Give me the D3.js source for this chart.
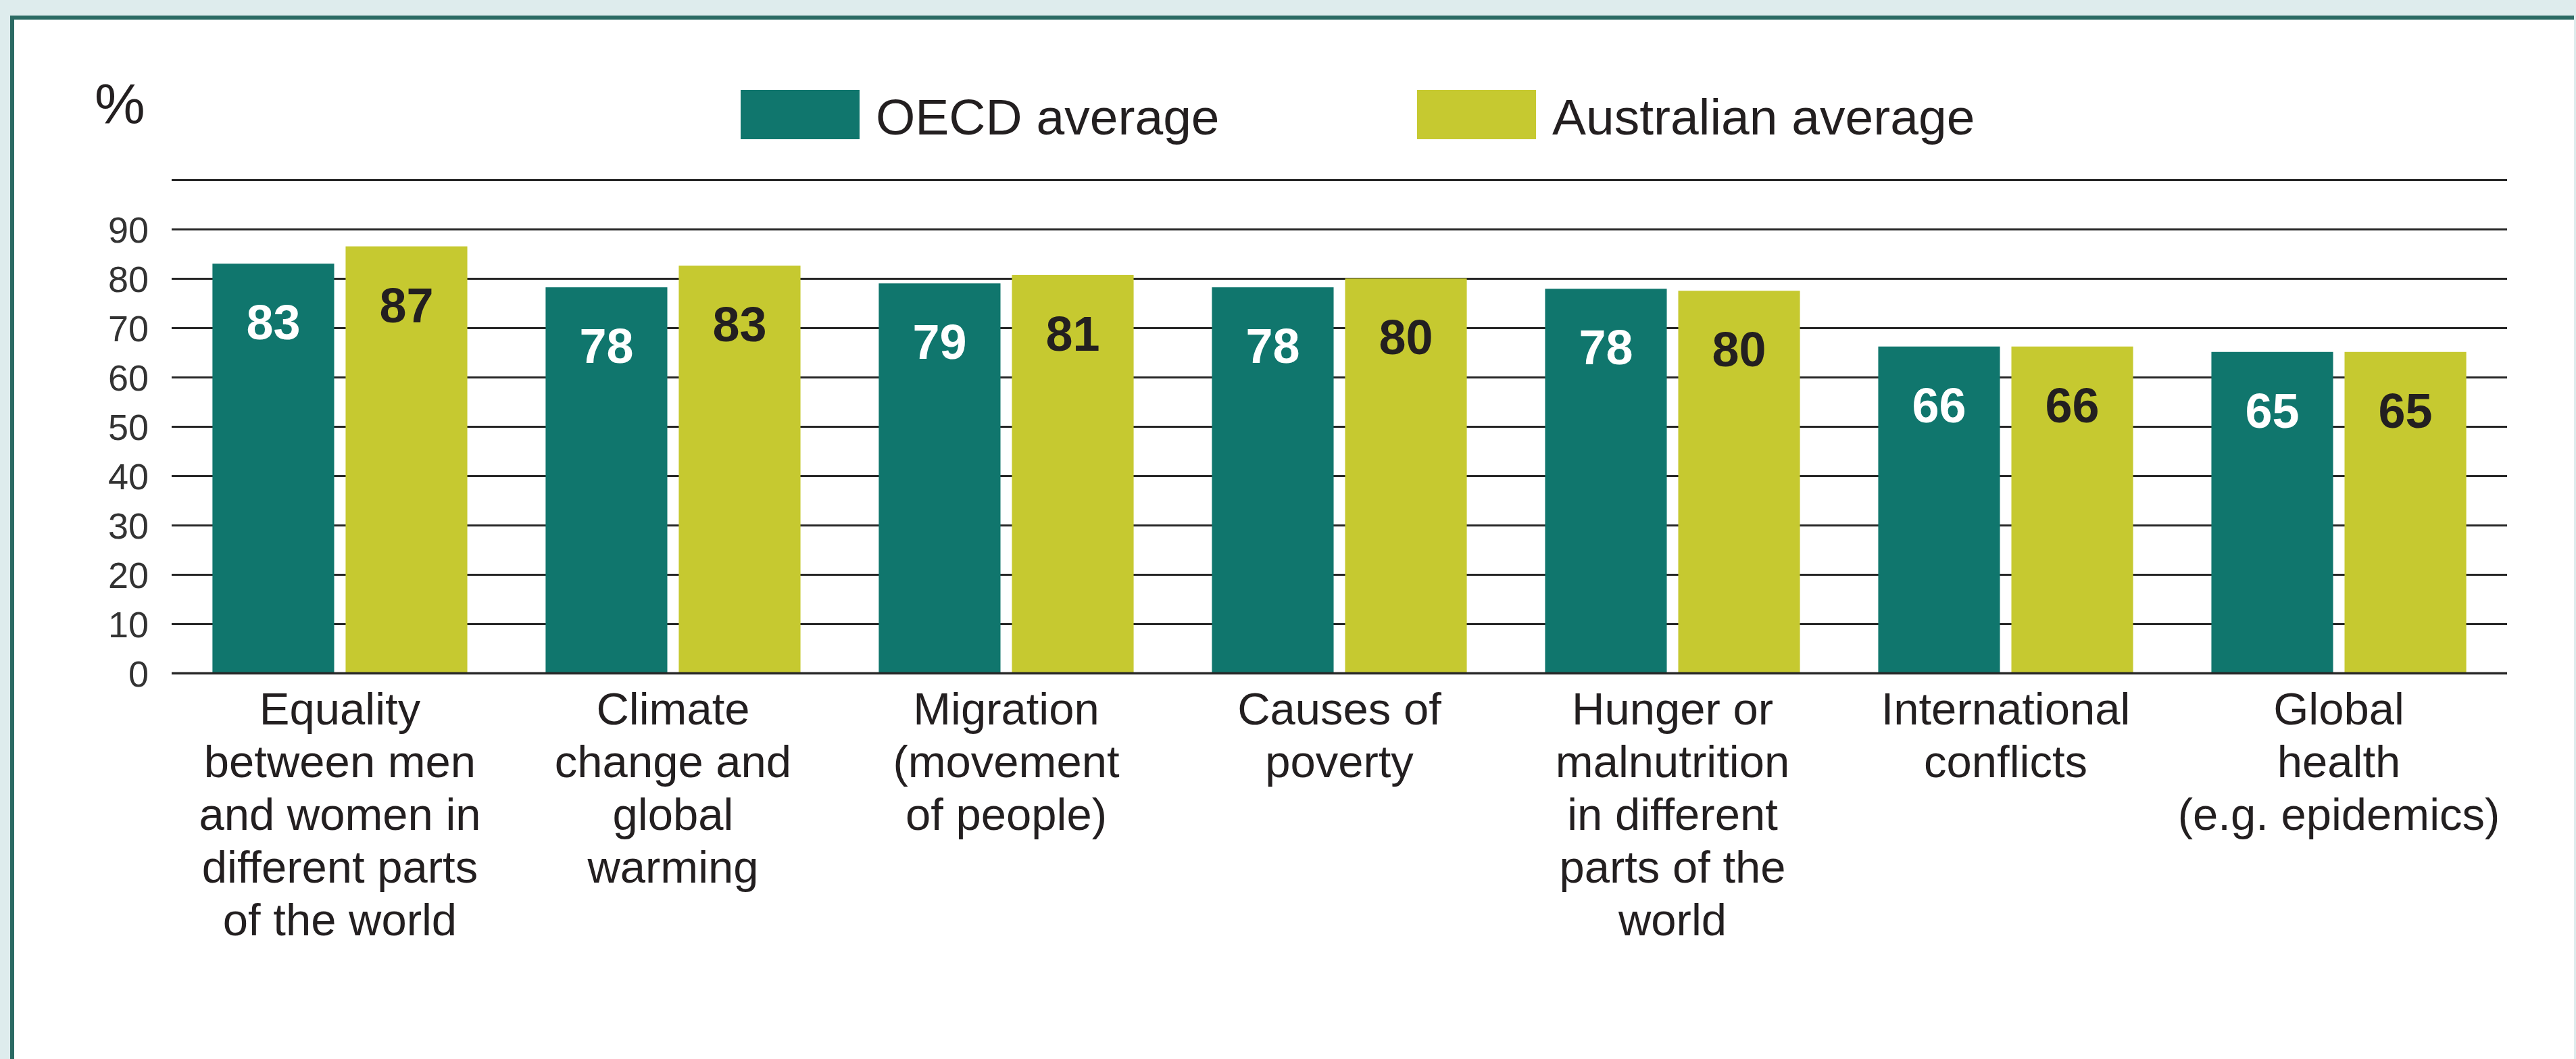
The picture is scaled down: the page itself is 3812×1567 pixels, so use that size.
<!DOCTYPE html>
<html>
<head>
<meta charset="utf-8">
<script src="https://cdn.jsdelivr.net/npm/d3@7"></script>
<style>
  body { margin: 0; background: #deeced; }
  svg { display: block; }
  text { font-family: "Liberation Sans", Arial, sans-serif; }
</style>
</head>
<body>
<svg id="chart" width="3812" height="1567"></svg>
<script>
// categories, as they are wrapped under the axis
const categories = [
  ["Equality", "between men", "and women in", "different parts", "of the world"],
  ["Climate", "change and", "global", "warming"],
  ["Migration", "(movement", "of people)"],
  ["Causes of", "poverty"],
  ["Hunger or", "malnutrition", "in different", "parts of the", "world"],
  ["International", "conflicts"],
  ["Global", "health", "(e.g. epidemics)"]
];
const seriesNames = ["OECD average", "Australian average"];

// bar heights
const oecdValues = [83, 78.2, 79, 78.2, 77.9, 66.2, 65.1];
const ausValues  = [86.5, 82.6, 80.7, 80, 77.5, 66.2, 65.1];
// numbers printed on the bars
const oecdLabels = ["83", "78", "79", "78", "78", "66", "65"];
const ausLabels  = ["87", "83", "81", "80", "80", "66", "65"];

const yTicks = [0, 10, 20, 30, 40, 50, 60, 70, 80, 90];
const colors = ["#10766d", "#c6c930"];
const labelColors = ["#ffffff", "#231f20"];

const svg = d3.select("#chart");
const W = 3812, H = 1567;

// panel
svg.append("rect").attr("x", 0).attr("y", 0).attr("width", W).attr("height", H).attr("fill", "#deeced");
svg.append("rect").attr("x", 18).attr("y", 23).attr("width", 3791).attr("height", H).attr("fill", "#ffffff");
svg.append("rect").attr("x", 18).attr("y", 23).attr("width", 3791).attr("height", 6).attr("fill", "#2b6a63");
svg.append("rect").attr("x", 15).attr("y", 23).attr("width", 6).attr("height", H).attr("fill", "#2b6a63");

const plotLeft = 254, plotRight = 3710, plotTop = 266, plotBottom = 996;

const x0 = d3.scaleBand()
  .domain(d3.range(categories.length))
  .range([plotLeft, plotRight])
  .paddingInner(0.235)
  .paddingOuter(0.1225);

const x1 = d3.scaleBand()
  .domain([0, 1])
  .range([0, x0.bandwidth()])
  .paddingInner(0.086);

const y = d3.scaleLinear().domain([0, 100]).range([plotBottom, plotTop]);

// grid lines (0..100, only 0..90 labelled)
const gridG = svg.append("g")
  .attr("transform", `translate(${plotLeft},0)`)
  .call(d3.axisRight(y).tickValues(d3.range(0, 101, 10)).tickSize(plotRight - plotLeft).tickFormat(""));
gridG.select(".domain").remove();
gridG.selectAll(".tick line").attr("stroke", "#262626").attr("stroke-width", 3);

const yAxis = svg.append("g")
  .attr("transform", `translate(${plotLeft},0)`)
  .call(d3.axisLeft(y).tickValues(yTicks).tickSize(0).tickPadding(34));
yAxis.select(".domain").remove();
yAxis.selectAll(".tick text")
  .attr("font-size", 54)
  .attr("fill", "#333333")
  .attr("font-family", "Liberation Sans, Arial, sans-serif")
  .attr("dy", "0.36em");

// bars
const rows = categories.map((c, i) => ({
  i,
  vals: [
    { s: 0, v: oecdValues[i], label: oecdLabels[i] },
    { s: 1, v: ausValues[i], label: ausLabels[i] }
  ]
}));

const groups = svg.selectAll(".group")
  .data(rows)
  .enter()
  .append("g")
  .attr("class", "group")
  .attr("transform", d => `translate(${x0(d.i)},0)`);

groups.selectAll("rect")
  .data(d => d.vals)
  .enter()
  .append("rect")
  .attr("x", d => x1(d.s))
  .attr("y", d => y(d.v))
  .attr("width", x1.bandwidth())
  .attr("height", d => y(0) - y(d.v))
  .attr("fill", d => colors[d.s]);

groups.selectAll(".val")
  .data(d => d.vals)
  .enter()
  .append("text")
  .attr("class", "val")
  .attr("x", d => x1(d.s) + x1.bandwidth() / 2)
  .attr("y", d => y(d.v) + 112)
  .attr("text-anchor", "middle")
  .attr("font-size", 72)
  .attr("font-weight", "bold")
  .attr("fill", d => labelColors[d.s])
  .text(d => d.label);

// zero line drawn on top of the bars
svg.append("line")
  .attr("x1", plotLeft).attr("x2", plotRight)
  .attr("y1", y(0)).attr("y2", y(0))
  .attr("stroke", "#262626").attr("stroke-width", 3);

// category labels
const catText = svg.selectAll(".cat")
  .data(categories)
  .enter()
  .append("text")
  .attr("class", "cat")
  .attr("text-anchor", "middle")
  .attr("font-size", 67)
  .attr("fill", "#231f20");

catText.selectAll("tspan")
  .data((d, i) => d.map(line => ({ line, i })))
  .enter()
  .append("tspan")
  .attr("x", d => x0(d.i) + x0.bandwidth() / 2)
  .attr("y", (d, j) => 1072 + j * 78)
  .text(d => d.line);

// y unit
svg.append("text")
  .attr("x", 140).attr("y", 183)
  .attr("font-size", 84)
  .attr("fill", "#231f20")
  .text("%");

// legend
const legendX = [1096, 2097];
const legend = svg.selectAll(".legend")
  .data(seriesNames)
  .enter()
  .append("g")
  .attr("class", "legend")
  .attr("transform", (d, i) => `translate(${legendX[i]},133)`);

legend.append("rect")
  .attr("width", 176).attr("height", 73)
  .attr("fill", (d, i) => colors[i]);

legend.append("text")
  .attr("x", 200).attr("y", 66)
  .attr("font-size", 75)
  .attr("fill", "#231f20")
  .text(d => d);
</script>
</body>
</html>
